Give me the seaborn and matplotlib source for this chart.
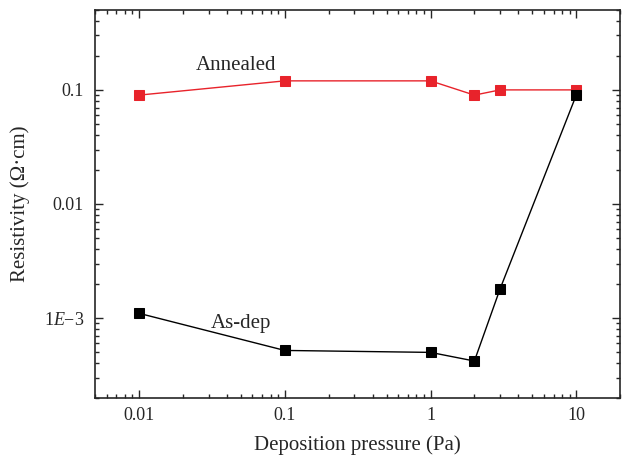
import matplotlib
matplotlib.use("Agg")
import matplotlib.pyplot as plt
import pandas as pd
import seaborn as sns
from matplotlib.ticker import FixedLocator, FixedFormatter, LogLocator, NullFormatter

pressure = [0.01, 0.1, 1, 2, 3, 10]
annealed = [0.09, 0.12, 0.12, 0.09, 0.1, 0.1]
as_dep = [1.1e-3, 5.2e-4, 5.0e-4, 4.2e-4, 1.8e-3, 0.09]

x_ticks = [0.01, 0.1, 1, 10]
x_tick_labels = ["0.01", "0.1", "1", "10"]
y_ticks = [1e-3, 0.01, 0.1]
y_tick_labels = ["1$\\mathit{E}$\u22123", "0.01", "0.1"]

red = "#e8232b"

sns.set_style("ticks")
plt.rcParams["font.family"] = ["Liberation Serif", "DejaVu Serif"]
plt.rcParams["mathtext.fontset"] = "custom"
plt.rcParams["mathtext.rm"] = "Liberation Serif"
plt.rcParams["mathtext.it"] = "Liberation Serif:italic"

df_ann = pd.DataFrame({"p": pressure, "rho": annealed})
df_dep = pd.DataFrame({"p": pressure, "rho": as_dep})

fig, ax = plt.subplots(figsize=(6.22, 4.62), dpi=100)

sns.lineplot(data=df_ann, x="p", y="rho", color=red, marker="s", markersize=7,
             markeredgecolor=red, linewidth=1.0, ax=ax)
sns.lineplot(data=df_dep, x="p", y="rho", color="black", marker="s", markersize=7,
             markeredgecolor="black", linewidth=1.0, ax=ax)

ax.set_xscale("log")
ax.set_yscale("log")
ax.set_xlim(0.005, 20)
ax.set_ylim(2e-4, 0.5)

ax.xaxis.set_major_locator(FixedLocator(x_ticks))
ax.xaxis.set_major_formatter(FixedFormatter(x_tick_labels))
ax.xaxis.set_minor_locator(LogLocator(base=10, subs=range(2, 10)))
ax.xaxis.set_minor_formatter(NullFormatter())
ax.yaxis.set_major_locator(FixedLocator(y_ticks))
ax.yaxis.set_major_formatter(FixedFormatter(y_tick_labels))
ax.yaxis.set_minor_locator(LogLocator(base=10, subs=range(2, 10)))
ax.yaxis.set_minor_formatter(NullFormatter())

ax.tick_params(which="both", direction="in", top=True, right=True, width=1.0)
ax.tick_params(which="major", length=6, labelsize=13)
ax.tick_params(which="minor", length=3)
ax.tick_params(axis="x", which="major", pad=6.5)
ax.tick_params(axis="y", which="major", pad=8)
for s in ax.spines.values():
    s.set_linewidth(1.2)
    s.set_visible(True)

ax.set_xlabel("Deposition pressure (Pa)", fontsize=15, labelpad=8)
ax.set_ylabel("Resistivity (\u03a9\u00b7cm)", fontsize=15, labelpad=10)

ax.text(0.046, 0.162, "Annealed", fontsize=15, ha="center", va="center")
ax.text(0.0497, 9.0e-4, "As-dep", fontsize=15, ha="center", va="center")

fig.subplots_adjust(left=0.153, right=0.997, top=0.978, bottom=0.139)
fig.savefig("out.png", dpi=100)
